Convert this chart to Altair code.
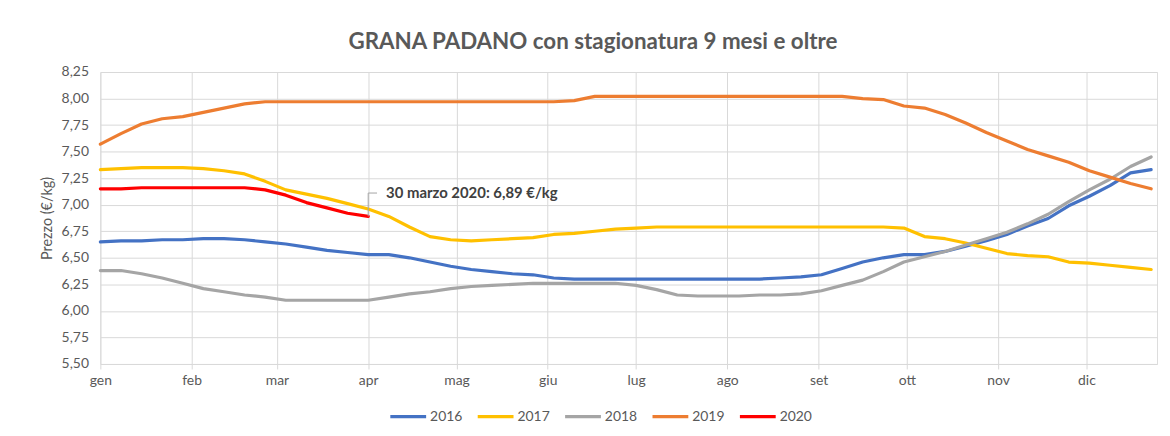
import altair as alt
import pandas as pd

years = ["2016", "2017", "2018", "2019", "2020"]
colors = ["#4472C4", "#FFC000", "#A5A5A5", "#ED7D31", "#FF0000"]

month_days = [0, 31, 60, 91, 121, 152, 182, 213, 244, 274, 305, 335]
month_labels = ["gen", "feb", "mar", "apr", "mag", "giu", "lug", "ago", "set", "ott", "nov", "dic"]

y_ticks = [5.50, 5.75, 6.00, 6.25, 6.50, 6.75, 7.00, 7.25, 7.50, 7.75, 8.00, 8.25]

p2016 = [6.65, 6.66, 6.66, 6.67, 6.67, 6.68, 6.68, 6.67, 6.65, 6.63, 6.60, 6.57, 6.55,
         6.53, 6.53, 6.50, 6.46, 6.42, 6.39, 6.37, 6.35, 6.34, 6.31, 6.30, 6.30, 6.30,
         6.30, 6.30, 6.30, 6.30, 6.30, 6.30, 6.30, 6.31, 6.32, 6.34, 6.40, 6.46, 6.50,
         6.53, 6.53, 6.56, 6.61, 6.66, 6.72, 6.80, 6.87, 6.99, 7.08, 7.18, 7.30, 7.33]
p2017 = [7.33, 7.34, 7.35, 7.35, 7.35, 7.34, 7.32, 7.29, 7.22, 7.14, 7.10, 7.06, 7.01,
         6.96, 6.89, 6.79, 6.70, 6.67, 6.66, 6.67, 6.68, 6.69, 6.72, 6.73, 6.75, 6.77,
         6.78, 6.79, 6.79, 6.79, 6.79, 6.79, 6.79, 6.79, 6.79, 6.79, 6.79, 6.79, 6.79,
         6.78, 6.70, 6.68, 6.64, 6.59, 6.54, 6.52, 6.51, 6.46, 6.45, 6.43, 6.41, 6.39]
p2018 = [6.38, 6.38, 6.35, 6.31, 6.26, 6.21, 6.18, 6.15, 6.13, 6.10, 6.10, 6.10, 6.10,
         6.10, 6.13, 6.16, 6.18, 6.21, 6.23, 6.24, 6.25, 6.26, 6.26, 6.26, 6.26, 6.26,
         6.24, 6.20, 6.15, 6.14, 6.14, 6.14, 6.15, 6.15, 6.16, 6.19, 6.24, 6.29, 6.37,
         6.46, 6.51, 6.56, 6.62, 6.68, 6.74, 6.82, 6.91, 7.03, 7.14, 7.24, 7.36, 7.45]
p2019 = [7.57, 7.67, 7.76, 7.81, 7.83, 7.87, 7.91, 7.95, 7.97, 7.97, 7.97, 7.97, 7.97,
         7.97, 7.97, 7.97, 7.97, 7.97, 7.97, 7.97, 7.97, 7.97, 7.97, 7.98, 8.02, 8.02,
         8.02, 8.02, 8.02, 8.02, 8.02, 8.02, 8.02, 8.02, 8.02, 8.02, 8.02, 8.00, 7.99,
         7.93, 7.91, 7.85, 7.77, 7.68, 7.60, 7.52, 7.46, 7.40, 7.32, 7.26, 7.20, 7.15]
p2020 = [7.15, 7.15, 7.16, 7.16, 7.16, 7.16, 7.16, 7.16, 7.14, 7.09, 7.02, 6.97, 6.92, 6.89]

annotation_text = "30 marzo 2020: 6,89 €/kg"

series = {"2016": p2016, "2017": p2017, "2018": p2018, "2019": p2019, "2020": p2020}
rows = []
for yr, vals in series.items():
    for k, v in enumerate(vals):
        rows.append({"anno": yr, "giorno": 7 * k, "prezzo": v})
df = pd.DataFrame(rows)

last_day = 7 * (len(p2020) - 1)
last_val = p2020[-1]
# leader line end points and label anchor (derived from the last 2020 point)
lead_v = pd.DataFrame([{"giorno": last_day, "prezzo": last_val, "prezzo2": last_val + 0.22}])
lead_h = pd.DataFrame([{"giorno": last_day, "giorno2": last_day + 3, "prezzo": last_val + 0.22,
                        "testo": annotation_text}])

TXT = "#595959"
FONT = "Lato"
GRID = "#D9D9D9"

label_expr = "[" + ",".join("'%s'" % m for m in month_labels) + "][indexof([" + \
    ",".join(str(d) for d in month_days) + "], datum.value)]"

x_axis = alt.Axis(values=month_days, labelExpr=label_expr, title=None,
                  grid=True, gridColor=GRID, domain=False, ticks=True, tickColor=GRID,
                  tickSize=5, labelPadding=5, labelColor=TXT, labelFont=FONT,
                  labelFontSize=14, labelFlush=False, labelOverlap=False)
y_axis = alt.Axis(values=y_ticks, labelExpr="replace(format(datum.value, '.2f'), '.', ',')",
                  title="Prezzo (€/kg)", titleColor=TXT, titleFont=FONT, titleFontSize=14.5,
                  titleFontWeight="normal", titlePadding=7,
                  grid=True, gridColor=GRID, domain=False, ticks=False, labelPadding=12,
                  labelColor=TXT, labelFont=FONT, labelFontSize=14, labelOverlap=False)
x_scale = alt.Scale(domain=[0, 359], nice=False, zero=False)
y_scale = alt.Scale(domain=[5.5, 8.25], nice=False, zero=False)

def X():
    return alt.X("giorno:Q", scale=x_scale, axis=x_axis)

def Y():
    return alt.Y("prezzo:Q", scale=y_scale, axis=y_axis)

lines = alt.Chart(df).mark_line(strokeWidth=3.2, strokeCap="round", strokeJoin="round").encode(
    x=X(), y=Y(),
    color=alt.Color("anno:N", scale=alt.Scale(domain=years, range=colors),
                    legend=alt.Legend(title=None, orient="none", direction="horizontal",
                                      legendX=290, legendY=327, columns=5,
                                      symbolType="stroke", symbolSize=1300, symbolStrokeWidth=3.2,
                                      labelColor=TXT, labelFont=FONT, labelFontSize=14,
                                      labelOffset=2, columnPadding=8)),
    order="giorno:Q",
)

vrule = alt.Chart(lead_v).mark_rule(color="#A5A5A5", strokeWidth=1).encode(
    x=X(), y=Y(), y2="prezzo2:Q")
hrule = alt.Chart(lead_h).mark_rule(color="#A5A5A5", strokeWidth=1).encode(
    x=X(), x2="giorno2:Q", y=Y())
label = alt.Chart(lead_h).mark_text(align="left", baseline="middle", dx=18, font=FONT,
                                    fontSize=15, fontWeight="bold", color="#404040").encode(
    x=X(), y=Y(), text="testo:N")

chart = alt.layer(lines, vrule, hrule, label).properties(
    width=1064, height=294,
    title=alt.TitleParams("GRANA PADANO con stagionatura 9 mesi e oltre", font=FONT,
                          fontSize=22.5, fontWeight="bold", color=TXT, anchor="middle",
                          dx=-36, offset=12),
    padding={"left": 93, "top": 63, "right": 5, "bottom": 60},
    autosize=alt.AutoSizeParams(type="none"),
).configure_view(stroke=None).configure(background="white")

chart.save("out.html", embed_options={"renderer": "svg", "actions": False})
